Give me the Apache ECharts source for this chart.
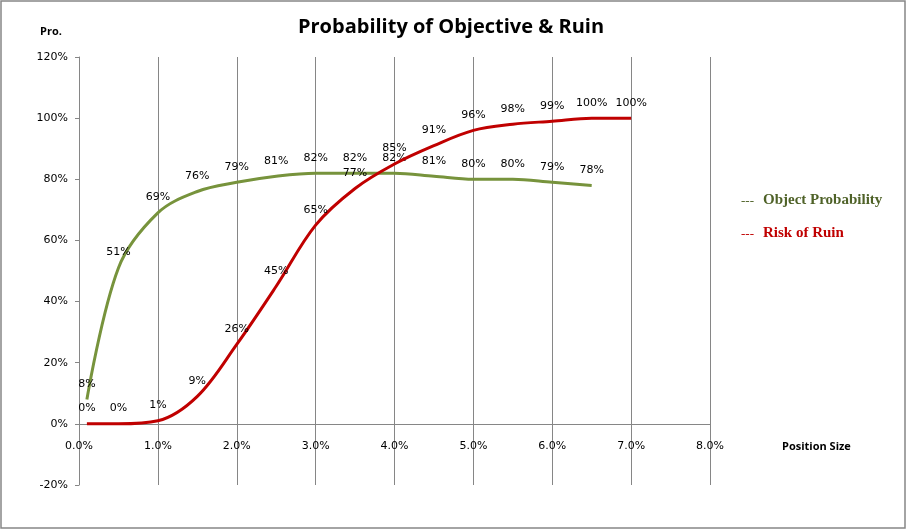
<!DOCTYPE html>
<html>
<head>
<meta charset="utf-8">
<script src="https://cdn.jsdelivr.net/npm/echarts@6/dist/echarts.min.js"></script>
<style>html,body{margin:0;padding:0;background:#fff}#c{width:907px;height:530px}</style>
</head>
<body>
<div id="c"></div>
<script>
const positionSize = [0.1, 0.5, 1.0, 1.5, 2.0, 2.5, 3.0, 3.5, 4.0, 4.5, 5.0, 5.5, 6.0, 6.5, 7.0];
const objectProbability = [8, 51, 69, 76, 79, 81, 82, 82, 82, 81, 80, 80, 79, 78];
const riskOfRuin = [0, 0, 1, 9, 26, 45, 65, 77, 85, 91, 96, 98, 99, 100, 100];
const xTicks = [0, 1, 2, 3, 4, 5, 6, 7, 8];
const yTicks = [-20, 0, 20, 40, 60, 80, 100, 120];

const GREEN = '#77933C', RED = '#C00000', GRAY = '#868686';
const lblFont = 'Tahoma, "DejaVu Sans", sans-serif';

function pairs(vals) { return vals.map((v, i) => [positionSize[i], v]); }

const chart = echarts.init(document.getElementById('c'), null, {renderer: 'canvas'});
const labelCfg = {show: true, position: 'top', distance: 10, color: '#000', fontSize: 11, fontFamily: lblFont, formatter: p => p.value[1] + '%'};
// plot area: 79..710 x, 57..485 y; zero line at ~424
const zeroBottom = 530 - (485 - (485 - 57) * (0 - yTicks[0]) / (yTicks[yTicks.length - 1] - yTicks[0]));
chart.setOption({
  animation: false,
  backgroundColor: '#fff',
  grid: [
    {left: 79, right: 197, top: 57, bottom: 45},
    {left: 79, right: 197, top: 57, bottom: zeroBottom}
  ],
  xAxis: [{
    type: 'value', gridIndex: 0, min: xTicks[0], max: xTicks[xTicks.length - 1], interval: 1,
    axisLine: {onZero: true, lineStyle: {color: GRAY, width: 1}},
    axisTick: {show: false},
    axisLabel: {show: false},
    splitLine: {show: true, lineStyle: {color: GRAY, width: 1}}
  }, {
    type: 'value', gridIndex: 1, min: xTicks[0], max: xTicks[xTicks.length - 1], interval: 1,
    axisLine: {show: false}, axisTick: {show: false}, splitLine: {show: false},
    axisLabel: {color: '#000', fontSize: 11, fontFamily: lblFont, margin: 17, formatter: v => v.toFixed(1) + '%'}
  }],
  yAxis: [{
    type: 'value', gridIndex: 0, min: yTicks[0], max: yTicks[yTicks.length - 1], interval: 20,
    axisLine: {show: true, lineStyle: {color: GRAY, width: 1}},
    axisTick: {show: true, length: 4, lineStyle: {color: GRAY}},
    axisLabel: {color: '#000', fontSize: 11, fontFamily: lblFont, margin: 11, formatter: v => v + '%'},
    splitLine: {show: false}
  }, {
    type: 'value', gridIndex: 1, show: false
  }],
  series: [
    {
      name: 'Object Probability', type: 'line', data: pairs(objectProbability),
      smooth: 0.35, symbol: 'circle', symbolSize: 0,
      lineStyle: {color: GREEN, width: 3}, itemStyle: {color: GREEN},
      label: labelCfg, z: 3
    },
    {
      name: 'Risk of Ruin', type: 'line', data: pairs(riskOfRuin),
      smooth: 0.35, symbol: 'circle', symbolSize: 0,
      lineStyle: {color: RED, width: 3}, itemStyle: {color: RED},
      label: labelCfg, z: 4
    }
  ],
  graphic: [
    {type: 'rect', shape: {x: 1, y: 1, width: 904, height: 527}, style: {fill: 'none', stroke: GRAY, lineWidth: 1.5}, silent: true},
    {type: 'text', x: 451, y: 27, style: {text: 'Probability of Objective & Ruin', font: 'bold 20px "Open Sans", sans-serif', fill: '#000', align: 'center', verticalAlign: 'middle'}},
    {type: 'text', left: 40, top: 26, style: {text: 'Pro.', font: 'bold 11px "Open Sans", sans-serif', fill: '#000'}},
    {type: 'text', left: 782, top: 441, style: {text: 'Position Size', font: 'bold 11px "Open Sans", sans-serif', fill: '#000'}},
    {type: 'text', left: 741, top: 195, style: {text: '---', font: '13px "Liberation Serif", serif', fill: '#4F6228'}},
    {type: 'text', left: 763, top: 193, style: {text: 'Object Probability', font: 'bold 15px "Liberation Serif", serif', fill: '#4F6228'}},
    {type: 'text', left: 741, top: 228, style: {text: '---', font: '13px "Liberation Serif", serif', fill: RED}},
    {type: 'text', left: 763, top: 226, style: {text: 'Risk of Ruin', font: 'bold 15px "Liberation Serif", serif', fill: RED}}
  ]
});
</script>
</body>
</html>
